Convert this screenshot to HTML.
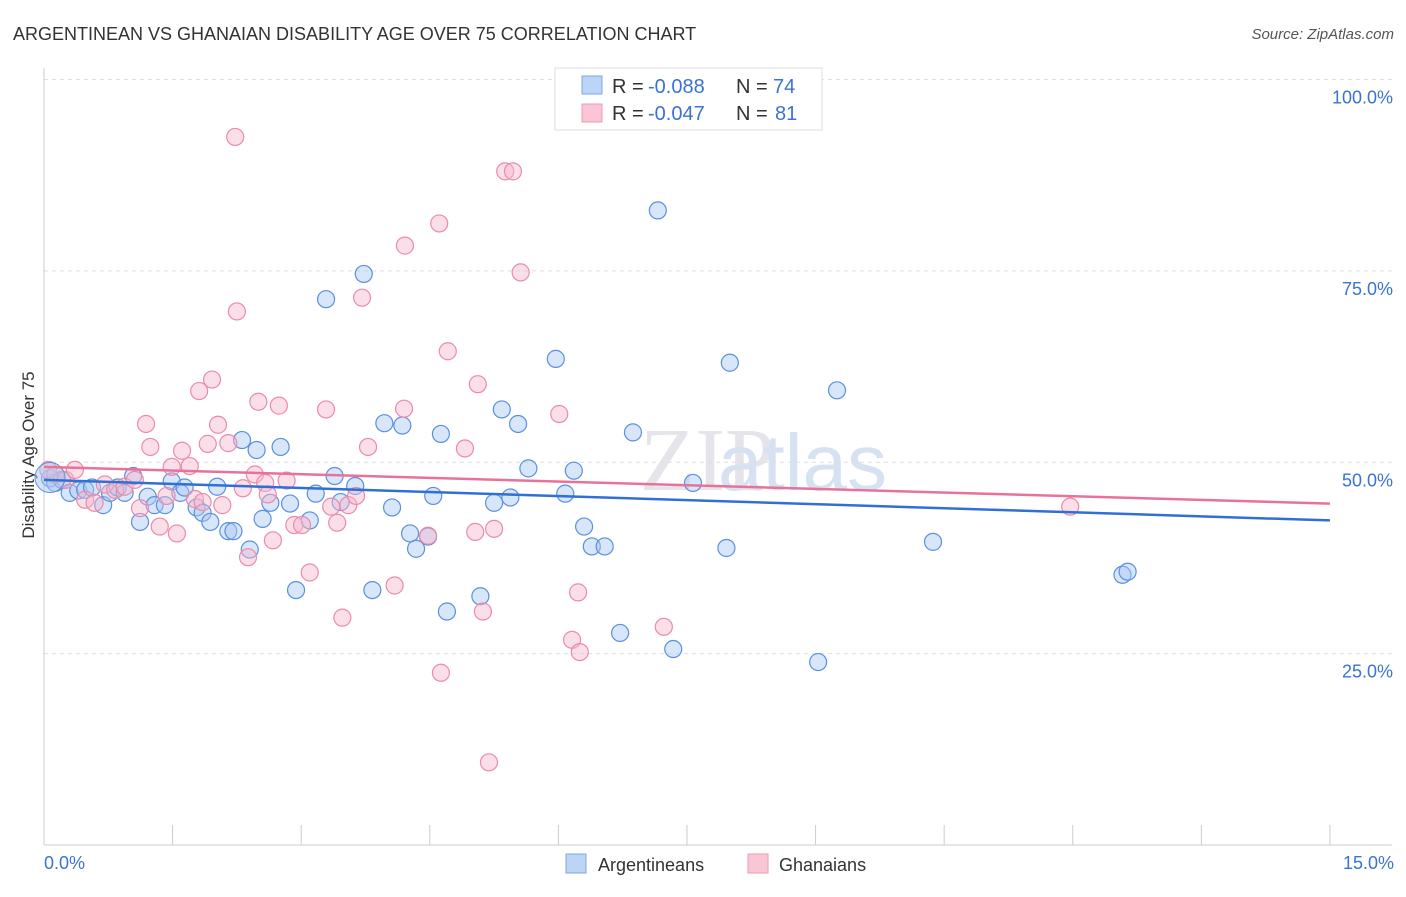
<!DOCTYPE html>
<html><head><meta charset="utf-8"><style>
body{margin:0;background:#fff;font-family:"Liberation Sans",sans-serif;}
</style></head><body>
<svg width="1406" height="892" xmlns="http://www.w3.org/2000/svg" id="svg">
<text x="13" y="40" font-size="18" fill="#333">ARGENTINEAN VS GHANAIAN DISABILITY AGE OVER 75 CORRELATION CHART</text>
<text x="1394" y="39" font-size="15" fill="#555" font-style="italic" text-anchor="end">Source: ZipAtlas.com</text>
<text x="640" y="490" font-size="90" fill="#e4e4ea" font-family="Liberation Serif">ZIP</text>
<text x="718" y="490" font-size="80" fill="#d6e2f2">atlas</text>
<g id="grid"></g>
<line x1="44" y1="68" x2="44" y2="845" stroke="#ccc"/>
<line x1="44" y1="845" x2="1392" y2="845" stroke="#ccc"/>
<text x="34" y="455" font-size="17" fill="#333" transform="rotate(-90 34 455)" text-anchor="middle">Disability Age Over 75</text>
<text x="44" y="869" font-size="18" fill="#3a73d4">0.0%</text>
<text x="1394" y="869" font-size="18" fill="#3a73d4" text-anchor="end">15.0%</text>
<g id="pts"></g>
<g id="lines"></g>
<g>
<rect x="555" y="68" width="267" height="62" fill="#fff" stroke="#ddd"/>
<rect x="582" y="76" width="20" height="18" fill="#bcd4f5" stroke="#7ea6e6"/>
<rect x="582" y="104" width="20" height="18" fill="#f9c6d5" stroke="#ee9ab3"/>
<text x="612" y="93" font-size="20" fill="#333">R = </text>
<text x="648" y="93" font-size="20" fill="#3a73d4">-0.088</text>
<text x="736" y="93" font-size="20" fill="#333">N = </text>
<text x="773" y="93" font-size="20" fill="#3a73d4">74</text>
<text x="612" y="120" font-size="20" fill="#333">R = </text>
<text x="648" y="120" font-size="20" fill="#3a73d4">-0.047</text>
<text x="736" y="120" font-size="20" fill="#333">N = </text>
<text x="775" y="120" font-size="20" fill="#3a73d4">81</text>
</g>
<g>
<rect x="566" y="854" width="20" height="19" fill="#bcd4f5" stroke="#7ea6e6"/>
<text x="598" y="871" font-size="18" fill="#333">Argentineans</text>
<rect x="748" y="854" width="20" height="19" fill="#f9c6d5" stroke="#ee9ab3"/>
<text x="779" y="871" font-size="18" fill="#333">Ghanaians</text>
</g>
</svg>
<script>
const yTicks=[25,50,75,100];
const xTickVals=[0,1.5,3,4.5,6,7.5,9,10.5,12,13.5,15];
const blueX=[0.07,0.13,0.21,0.30,0.40,0.48,0.56,0.69,0.77,0.86,0.94,1.04,1.12,1.21,1.29,1.41,1.49,1.59,1.64,1.78,1.85,1.94,2.02,2.15,2.21,2.31,2.40,2.48,2.55,2.64,2.76,2.87,2.94,3.10,3.17,3.29,3.39,3.46,3.63,3.73,3.83,3.97,4.06,4.18,4.27,4.34,4.48,4.54,4.63,4.70,5.09,5.25,5.34,5.44,5.53,5.65,5.97,6.08,6.18,6.30,6.39,6.54,6.72,6.87,7.16,7.34,7.57,7.96,8.00,9.03,9.25,10.37,12.58,12.64];
const blueY=[47.9,47.3,47.7,46.0,46.3,46.4,46.7,44.4,46.0,46.7,46.0,48.2,42.2,45.5,44.4,44.4,47.5,46.0,46.7,44.1,43.4,42.2,46.8,41.0,41.0,52.9,38.6,51.6,42.6,44.7,52.0,44.6,33.3,42.4,45.9,71.3,48.2,44.8,46.9,74.6,33.3,55.1,44.1,54.8,40.7,38.7,40.3,45.6,53.7,30.5,32.5,44.7,56.9,45.4,55.0,49.2,63.5,45.9,48.9,41.6,39.0,39.0,27.7,53.9,82.9,25.6,47.3,38.8,63.0,23.9,59.4,39.6,35.3,35.7];
const pinkX=[0.05,0.13,0.25,0.36,0.48,0.59,0.71,0.83,0.94,1.06,1.12,1.19,1.24,1.35,1.43,1.49,1.55,1.61,1.70,1.76,1.81,1.85,1.91,1.96,2.03,2.08,2.15,2.23,2.25,2.32,2.38,2.46,2.50,2.58,2.61,2.67,2.74,2.83,2.92,3.01,3.10,3.29,3.35,3.42,3.48,3.55,3.64,3.71,3.78,4.09,4.20,4.21,4.48,4.61,4.63,4.71,4.91,5.03,5.06,5.12,5.19,5.25,5.38,5.47,5.56,6.01,6.16,6.23,6.25,7.23,11.97];
const pinkY=[49.0,48.4,47.7,49.0,45.1,44.7,47.1,46.4,46.8,47.7,44.0,55.0,52.0,41.6,45.6,49.4,40.7,51.5,49.5,45.2,59.3,44.8,52.4,60.8,54.9,44.4,52.5,92.5,69.7,46.6,37.6,48.4,57.9,47.3,45.8,39.8,57.4,47.6,41.8,41.8,35.6,56.9,44.2,42.1,29.7,44.4,45.6,71.5,52.0,33.9,57.0,78.3,40.4,81.2,22.5,64.5,51.8,40.9,60.2,30.5,10.8,41.3,88.0,88.0,74.8,56.3,26.8,33.0,25.2,28.5,44.2];
const blueLine=[47.7,42.4];
const pinkLine=[49.4,44.6];
const X=v=>44+v*85.73, Y=v=>845-v*7.655;
const NS='http://www.w3.org/2000/svg';
const g=document.getElementById('grid');
yTicks.forEach(t=>{
 const l=document.createElementNS(NS,'line');
 
 
 l.setAttribute('x1',44);l.setAttribute('x2',1392);l.setAttribute('y1',Y(t));l.setAttribute('y2',Y(t));
 l.setAttribute('stroke','#ddd');l.setAttribute('stroke-dasharray','4 4');g.appendChild(l);
 const tx=document.createElementNS(NS,'text');
 
 
 tx.setAttribute('x',1393);tx.setAttribute('y',Y(t)+24);tx.setAttribute('text-anchor','end');
 tx.setAttribute('font-size','18');tx.setAttribute('fill','#3a73d4');tx.textContent=t.toFixed(1)+'%';g.appendChild(tx);
});
xTickVals.forEach(t=>{
 const l=document.createElementNS(NS,'line');
 
 
 l.setAttribute('x1',X(t));l.setAttribute('x2',X(t));l.setAttribute('y1',825);l.setAttribute('y2',845);
 l.setAttribute('stroke','#ccc');g.appendChild(l);
});
const p=document.getElementById('pts');
function dots(xs,ys,fill,stroke,name){
 xs.forEach((x,i)=>{
  const c=document.createElementNS(NS,'circle');
  
  
  c.setAttribute('cx',X(x));c.setAttribute('cy',Y(ys[i]));c.setAttribute('r',8.5);
  c.setAttribute('fill',fill);c.setAttribute('fill-opacity','0.45');c.setAttribute('stroke',stroke);c.setAttribute('stroke-width','1.2');
  p.appendChild(c);
 });
}
dots(blueX,blueY,'#a9c8f2','#5b8fe0','argentinean-point');
dots(pinkX,pinkY,'#f7b9cc','#ec8aaa','ghanaian-point');
const big=document.createElementNS(NS,'circle');


big.setAttribute('cx',X(0.07));big.setAttribute('cy',Y(48.0));big.setAttribute('r',15);
big.setAttribute('fill','#a9c8f2');big.setAttribute('fill-opacity','0.5');big.setAttribute('stroke','#5b8fe0');
p.appendChild(big);
const lg=document.getElementById('lines');
function line(v,col,name){
 const l=document.createElementNS(NS,'line');
 
 
 l.setAttribute('x1',X(0));l.setAttribute('x2',X(15));l.setAttribute('y1',Y(v[0]));l.setAttribute('y2',Y(v[1]));
 l.setAttribute('stroke',col);l.setAttribute('stroke-width','2.5');lg.appendChild(l);
}
line(blueLine,'#2f6fd6','argentinean-trend-line');
line(pinkLine,'#e8729a','ghanaian-trend-line');
</script>
</body></html>
